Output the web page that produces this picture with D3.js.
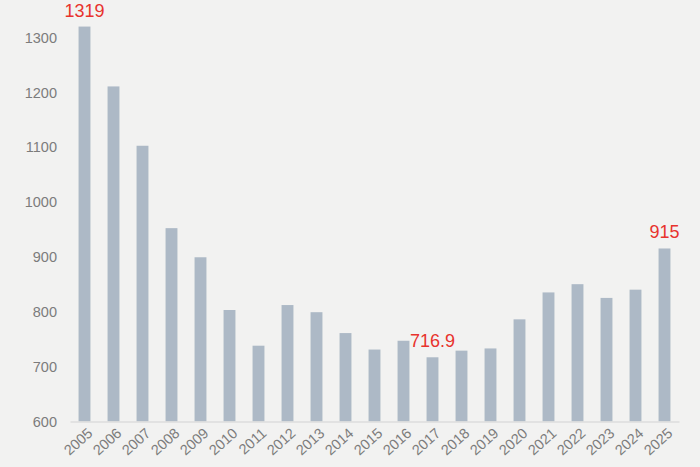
<!DOCTYPE html>
<html><head><meta charset="utf-8">
<script src="https://cdn.jsdelivr.net/npm/d3@7"></script>
<style>
html,body{margin:0;padding:0;background:#f2f2f1;}
svg{display:block;font-family:"Liberation Sans",Arial,sans-serif;}
</style></head>
<body>
<svg id="chart" width="700" height="467"></svg>
<script>
const years = ["2005","2006","2007","2008","2009","2010","2011","2012","2013","2014","2015","2016","2017","2018","2019","2020","2021","2022","2023","2024","2025"];
const values = [1319,1210,1102,952,899,803,738,812,799,761,731,747,716.9,729,733,786,835,850,825,840,915];
const yTicks = [600,700,800,900,1000,1100,1200,1300];
const highlighted = ["2005","2017","2025"];

const svg = d3.select("#chart");
const x = d3.scaleBand().domain(years).range([70,679]).paddingInner(0.59).paddingOuter(0.295);
const y = d3.scaleLinear().domain([600,1300]).range([421.5,37]);

// y axis labels
const yAxis = d3.axisLeft(y).tickValues(yTicks).tickSize(0).tickPadding(0).tickFormat(d3.format("d"));
const gy = svg.append("g").attr("transform","translate(57,0)").call(yAxis);
gy.select(".domain").remove();
gy.selectAll("text").attr("fill","#7c7c7c").style("font-size","14.5px").attr("dy","0.35em");

// bars
svg.append("g").selectAll("rect").data(values).join("rect")
  .attr("x",(d,i)=>x(years[i]))
  .attr("width",x.bandwidth())
  .attr("y",d=>y(d))
  .attr("height",d=>y(600)-y(d))
  .attr("fill","#adb9c6");

// baseline / x axis
const xAxis = d3.axisBottom(x).tickSize(0).tickPadding(0);
const gx = svg.append("g").attr("transform",`translate(0,${y(600)})`).call(xAxis);
gx.select(".domain").attr("stroke","#dcdcdc").attr("stroke-width",1.5);
gx.selectAll("text")
  .attr("fill","#7c7c7c").style("font-size","14.5px")
  .attr("text-anchor","end")
  .attr("dy",null).attr("y",0)
  .attr("transform",`translate(${x.bandwidth()/2+3},13) rotate(-42)`);

// value labels
svg.append("g").selectAll("text")
  .data(values.map((v,i)=>({v,yr:years[i]})).filter(d=>highlighted.includes(d.yr)))
  .join("text")
  .attr("x",d=>x(d.yr)+x.bandwidth()/2)
  .attr("y",d=>y(d.v)-10)
  .attr("text-anchor","middle")
  .attr("fill","#e8332d")
  .style("font-size","18px")
  .text(d=>String(d.v));
</script>
</body></html>
